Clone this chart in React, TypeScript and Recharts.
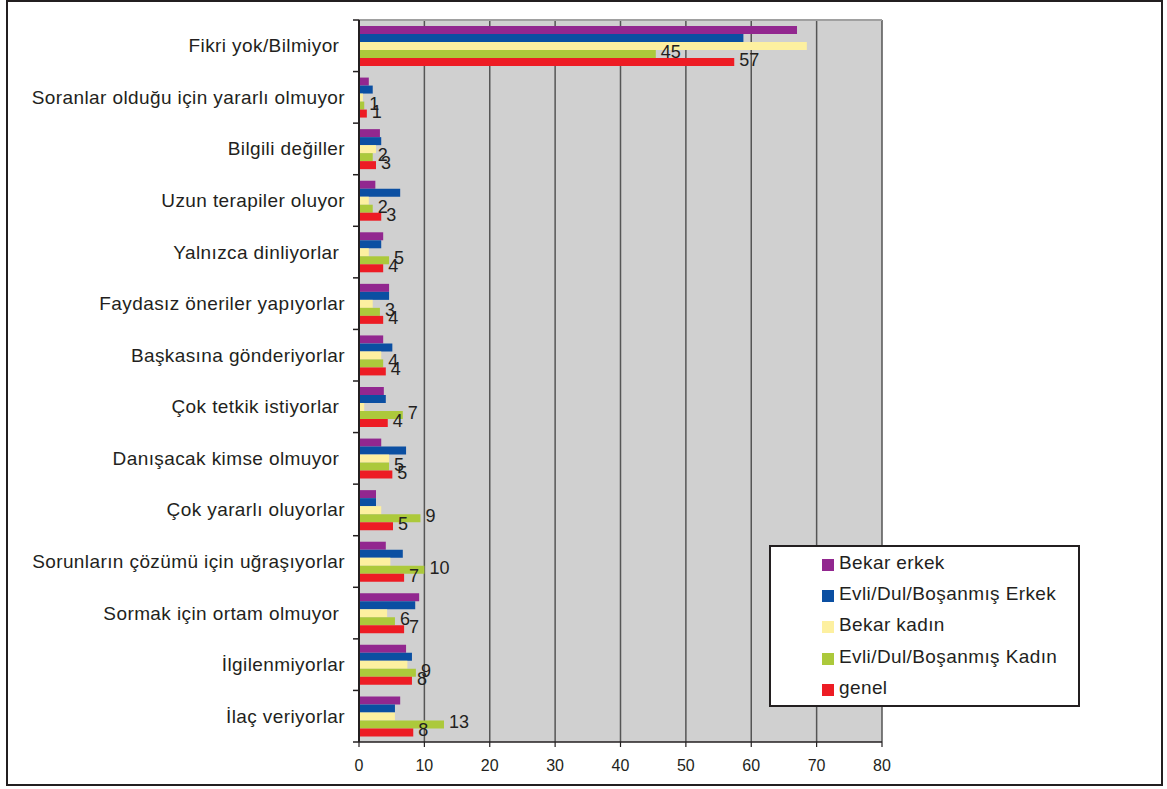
import React from 'react';
import { BarChart, Bar, XAxis, YAxis, CartesianGrid, LabelList } from 'recharts';

const categories = [
  'Fikri yok/Bilmiyor ',
  'Soranlar olduğu için yararlı olmuyor',
  'Bilgili değiller',
  'Uzun terapiler oluyor',
  'Yalnızca dinliyorlar ',
  'Faydasız öneriler yapıyorlar',
  'Başkasına gönderiyorlar',
  'Çok tetkik istiyorlar ',
  'Danışacak kimse olmuyor ',
  'Çok yararlı oluyorlar',
  'Sorunların çözümü için uğraşıyorlar',
  'Sormak için ortam olmuyor ',
  'İlgilenmiyorlar',
  'İlaç veriyorlar',
];

const bekarErkek = [67.0, 1.5, 3.2, 2.5, 3.7, 4.6, 3.7, 3.8, 3.4, 2.6, 4.1, 9.2, 7.2, 6.3];
const evliErkek = [58.8, 2.1, 3.4, 6.3, 3.4, 4.6, 5.1, 4.1, 7.2, 2.6, 6.7, 8.6, 8.1, 5.5];
const bekarKadin = [68.5, 0.6, 2.6, 1.5, 1.5, 2.1, 3.4, 0.8, 4.6, 3.4, 4.8, 4.3, 7.4, 5.5];
const evliKadin = [45.4, 0.8, 2.1, 2.1, 4.6, 3.2, 3.7, 6.7, 4.6, 9.4, 10.0, 5.5, 8.7, 13.0];
const genel = [57.4, 1.2, 2.6, 3.4, 3.7, 3.7, 4.1, 4.4, 5.1, 5.2, 6.9, 6.9, 8.1, 8.3];

const xTicks = [0, 10, 20, 30, 40, 50, 60, 70, 80];

const seriesNames = ['Bekar erkek', 'Evli/Dul/Boşanmış Erkek', 'Bekar kadın', 'Evli/Dul/Boşanmış Kadın', 'genel'];
const seriesKeys = ['be', 'ee', 'bk', 'ek', 'g'];
const seriesColors = ['#92278f', '#0b4fa2', '#fdf0a0', '#acc93b', '#ed1c24'];

const data = categories.map((name, i) => ({
  name,
  be: bekarErkek[i],
  ee: evliErkek[i],
  bk: bekarKadin[i],
  ek: evliKadin[i],
  g: genel[i],
}));

const FONT = '"Liberation Sans", Arial, sans-serif';
const TEXT = '#231f20';

const PLOT_TOP = 20;
const PLOT_BOTTOM = 742;
const BAND = (PLOT_BOTTOM - PLOT_TOP) / categories.length;

const CategoryTick = (props: any) => {
  const { x, y, payload, index } = props;
  const axisX = x + 14;
  const top = y - BAND / 2;
  const bottom = y + BAND / 2;
  return (
    <g>
      <line x1={axisX - 6} x2={axisX} y1={top} y2={top} stroke={TEXT} strokeWidth={1.5} />
      {index === categories.length - 1 && (
        <line x1={axisX - 6} x2={axisX} y1={bottom} y2={bottom} stroke={TEXT} strokeWidth={1.5} />
      )}
      <text
        x={x}
        y={y}
        textAnchor="end"
        dominantBaseline="central"
        fontSize={19}
        letterSpacing={0.4}
        fill={TEXT}
        style={{ whiteSpace: 'pre', fontFamily: FONT }}
      >
        {payload.value}
      </text>
    </g>
  );
};

const NumTick = (props: any) => {
  const { x, y, payload } = props;
  return (
    <text x={x} y={y} textAnchor="middle" dominantBaseline="hanging" fontSize={16} fill={TEXT} style={{ fontFamily: FONT }}>
      {payload.value}
    </text>
  );
};

const ValueLabel = (props: any) => {
  const { x, y, width, height, value } = props;
  return (
    <text
      x={x + width + 5}
      y={y + height / 2 - 2}
      dominantBaseline="central"
      fontSize={18}
      fill={TEXT}
      style={{ fontFamily: FONT }}
    >
      {Math.round(value)}
    </text>
  );
};

const LegendBox = () => (
  <div
    style={{
      position: 'absolute',
      left: 769,
      top: 545,
      width: 311,
      height: 162,
      border: '2px solid #231f20',
      boxSizing: 'border-box',
      background: '#fff',
      paddingTop: 0,
      fontFamily: FONT,
    }}
  >
    {seriesNames.map((n, i) => (
      <div key={n} style={{ display: 'flex', alignItems: 'center', height: 31.3, paddingLeft: 51 }}>
        <div style={{ width: 12, height: 12, background: seriesColors[i], marginRight: 5, marginTop: 4 }} />
        <span style={{ fontSize: 19, letterSpacing: 0.4, color: TEXT }}>{n}</span>
      </div>
    ))}
  </div>
);

export default function App() {
  return (
    <div style={{ position: 'absolute', left: 0, top: 0, width: 1167, height: 789, background: '#fff' }}>
      <BarChart
        width={1167}
        height={789}
        data={data}
        layout="vertical"
        margin={{ top: PLOT_TOP, right: 285, bottom: 17, left: 19 }}
        barSize={8}
        barGap={0}
        style={{ fontFamily: FONT }}
      >
        <CartesianGrid horizontal={false} fill="#d0d0d0" stroke="#555555" strokeWidth={1.5} />
        <CartesianGrid vertical={false} horizontalPoints={[PLOT_TOP]} stroke="#a0a0a0" strokeWidth={2} />
        <XAxis
          type="number"
          domain={[0, 80]}
          ticks={xTicks}
          interval={0}
          axisLine={{ stroke: TEXT, strokeWidth: 1.5 }}
          tickLine={{ stroke: TEXT, strokeWidth: 1.2 }}
          tickSize={5}
          tickMargin={13}
          tick={<NumTick />}
          height={30}
        />
        <YAxis
          type="category"
          dataKey="name"
          width={340}
          interval={0}
          axisLine={{ stroke: TEXT, strokeWidth: 2 }}
          tickLine={false}
          tickSize={0}
          tickMargin={14}
          tick={<CategoryTick />}
        />
        {seriesKeys.map((k, i) => (
          <Bar key={k} dataKey={k} name={seriesNames[i]} fill={seriesColors[i]} isAnimationActive={false}>
            {(k === 'ek' || k === 'g') && <LabelList dataKey={k} content={<ValueLabel />} />}
          </Bar>
        ))}
      </BarChart>
      <LegendBox />
      <div
        style={{
          position: 'absolute',
          left: 6,
          top: 0,
          width: 1157,
          height: 786,
          border: '2px solid #231f20',
          boxSizing: 'border-box',
          pointerEvents: 'none',
        }}
      />
    </div>
  );
}
